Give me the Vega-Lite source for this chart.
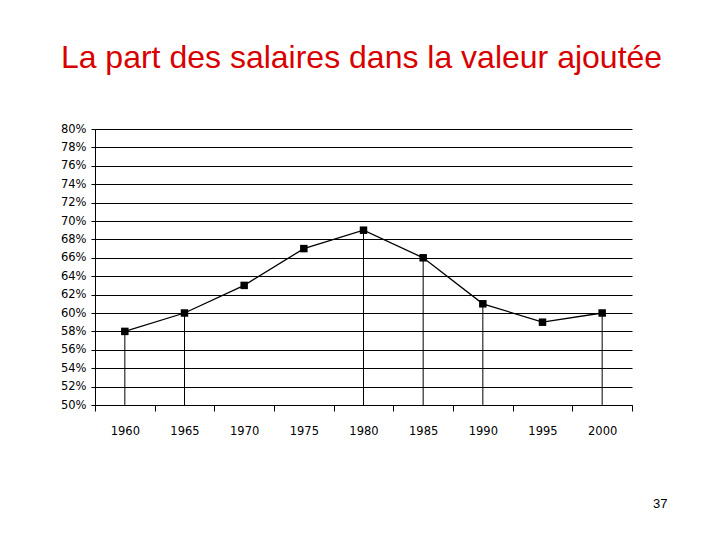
{
  "$schema": "https://vega.github.io/schema/vega-lite/v6.json",
  "width": 537,
  "height": 276,
  "autosize": "none",
  "padding": {"left": 95, "top": 129, "right": 88, "bottom": 135},
  "background": "white",
  "config": {"view": {"stroke": null}, "font": "DejaVu Sans"},
  "title": {
    "text": "La part des salaires dans la valeur ajoutée",
    "font": "Liberation Sans",
    "fontSize": 32,
    "fontWeight": "normal",
    "color": "#d80000",
    "anchor": "middle",
    "baseline": "alphabetic",
    "offset": 23,
    "dx": -2
  },
  "data": {
    "values": [
      {"year": 1960, "share": 0.58},
      {"year": 1965, "share": 0.60},
      {"year": 1970, "share": 0.63},
      {"year": 1975, "share": 0.67},
      {"year": 1980, "share": 0.69},
      {"year": 1985, "share": 0.66},
      {"year": 1990, "share": 0.61},
      {"year": 1995, "share": 0.59},
      {"year": 2000, "share": 0.60}
    ]
  },
  "encoding": {
    "x": {
      "field": "year",
      "type": "quantitative",
      "scale": {"domain": [1957.5, 2002.5], "nice": false, "zero": false},
      "axis": {
        "values": [1957.5, 1960, 1962.5, 1965, 1967.5, 1970, 1972.5, 1975, 1977.5, 1980, 1982.5, 1985, 1987.5, 1990, 1992.5, 1995, 1997.5, 2000, 2002.5],
        "labelExpr": "datum.value % 5 == 0 ? datum.value : ''",
        "labelOverlap": false,
        "labelFlush": false,
        "labelFontSize": 11.5,
        "labelColor": "black",
        "labelPadding": 14,
        "tickSize": 6,
        "tickColor": {"condition": {"test": "datum.value % 5 == 0", "value": "transparent"}, "value": "black"},
        "domainColor": "black",
        "grid": false,
        "title": "37",
        "titleFont": "Liberation Sans",
        "titleFontSize": 13,
        "titleFontWeight": "normal",
        "titleColor": "black",
        "titleAlign": "right",
        "titleBaseline": "alphabetic",
        "titleX": 572,
        "titleY": 102
      }
    },
    "y": {
      "field": "share",
      "type": "quantitative",
      "scale": {"domain": [0.5, 0.8], "nice": false, "zero": false},
      "axis": {
        "values": [0.5, 0.52, 0.54, 0.56, 0.58, 0.6, 0.62, 0.64, 0.66, 0.68, 0.7, 0.72, 0.74, 0.76, 0.78, 0.8],
        "format": ".0%",
        "labelFontSize": 11.5,
        "labelColor": "black",
        "labelPadding": 5,
        "tickSize": 4,
        "tickColor": "black",
        "domainColor": "black",
        "grid": true,
        "gridColor": "black",
        "gridOpacity": 1,
        "title": null
      }
    }
  },
  "layer": [
    {
      "transform": [{"filter": {"field": "year", "oneOf": [1960, 1965, 1980, 1985, 1990, 2000]}}],
      "mark": {"type": "rule", "color": "black", "strokeWidth": 1},
      "encoding": {"y2": {"datum": 0.5}}
    },
    {
      "mark": {"type": "line", "color": "black", "strokeWidth": 1.3}
    },
    {
      "mark": {"type": "point", "shape": "square", "filled": true, "size": 56, "color": "black", "opacity": 1}
    }
  ]
}
